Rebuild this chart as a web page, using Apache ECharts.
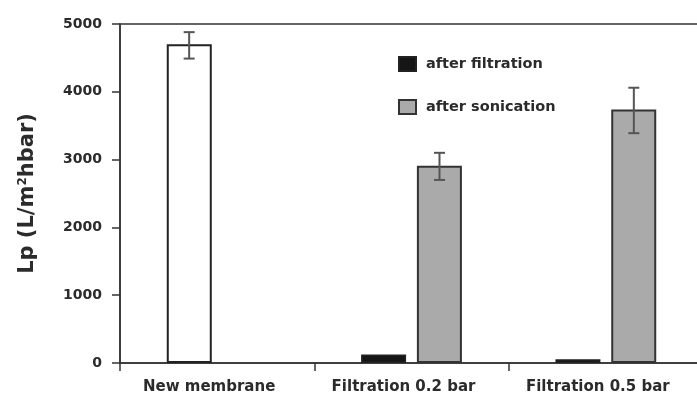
<!DOCTYPE html>
<html>
<head>
<meta charset="utf-8">
<script src="https://cdn.jsdelivr.net/npm/echarts@6/dist/echarts.min.js"></script>
<style>
  html, body { margin: 0; padding: 0; background: #fff; }
  #main { width: 697px; height: 394px; }
</style>
</head>
<body>
<div id="main"></div>
<script>
// values
var categories = ["New membrane", "Filtration 0.2 bar", "Filtration 0.5 bar"];
var afterFiltration = [4700, 127, 54];      // first bar = new membrane (white)
var afterSonication = [null, 2910, 3740];
var filtrationErr = [[4490, 4880], null, null];
var sonicationErr = [null, [2700, 3100], [3390, 4060]];
var yTicks = [0, 1000, 2000, 3000, 4000, 5000];

var FONT = "DejaVu Sans";
var INK = "#2b2b2b";
var BAR_W = 45;
var BAR_GAP = 11;

function errItems(errs, slot) {
  var out = [];
  errs.forEach(function (e, i) {
    if (e) out.push([i, e[0], e[1], slot]);
  });
  return out;
}

function renderErr(params, api) {
  var slot = api.value(3);
  var off = (slot === 0 ? -1 : 1) * (BAR_W + BAR_GAP) / 2;
  var lo = api.coord([api.value(0), api.value(1)]);
  var hi = api.coord([api.value(0), api.value(2)]);
  var x = lo[0] + off;
  var cap = 5.5;
  var style = { stroke: "#555", lineWidth: 2 };
  return {
    type: "group",
    children: [
      { type: "line", shape: { x1: x, y1: hi[1], x2: x, y2: lo[1] }, style: style },
      { type: "line", shape: { x1: x - cap, y1: hi[1], x2: x + cap, y2: hi[1] }, style: style },
      { type: "line", shape: { x1: x - cap, y1: lo[1], x2: x + cap, y2: lo[1] }, style: style }
    ]
  };
}

var chart = echarts.init(document.getElementById("main"), null, { renderer: "canvas" });

var option = {
  backgroundColor: "#fff",
  animation: false,
  grid: {
    left: 120, width: 583, top: 24, bottom: 31,
    outerBoundsMode: "none",
    show: true, borderColor: "#333", borderWidth: 1.5
  },
  legend: {
    data: ["after filtration", "after sonication"],
    orient: "vertical",
    left: 398, top: 56, padding: 0,
    icon: "rect",
    itemWidth: 17, itemHeight: 14, itemGap: 27,
    textStyle: { fontFamily: FONT, fontWeight: "bold", fontSize: 14.5, color: INK, padding: [0, 0, 0, 5] }
  },
  xAxis: {
    type: "category",
    data: categories,
    axisLine: { lineStyle: { color: "#333", width: 1.5 } },
    axisTick: { show: true, length: 8, lineStyle: { color: "#333", width: 1.5 } },
    axisLabel: {
      fontFamily: FONT, fontWeight: "bold", fontSize: 15, color: INK,
      margin: 17, padding: [0, 16, 0, 0]
    },
    splitLine: { show: false }
  },
  yAxis: {
    type: "value",
    min: yTicks[0], max: yTicks[yTicks.length - 1], interval: 1000,
    name: "Lp (L/m{sup|2}hbar)",
    nameLocation: "middle",
    nameGap: 82,
    nameTextStyle: {
      fontFamily: FONT, fontWeight: "bold", fontSize: 21, color: INK,
      rich: {
        sup: { fontFamily: FONT, fontWeight: "bold", fontSize: 12, color: INK, verticalAlign: "top", padding: [0, 0, 8, 0] }
      }
    },
    axisLine: { show: true, lineStyle: { color: "#333", width: 1.5 } },
    axisTick: { show: true, length: 8, lineStyle: { color: "#333", width: 1.5 } },
    axisLabel: {
      fontFamily: FONT, fontWeight: "bold", fontSize: 14, color: INK, margin: 18,
      formatter: function (v) { return String(v); }
    },
    splitLine: { show: false }
  },
  series: [
    {
      name: "after filtration",
      type: "bar",
      barWidth: BAR_W,
      barGap: (BAR_GAP / BAR_W * 100).toFixed(0) + "%",
      itemStyle: { color: "#151515", borderColor: "#222", borderWidth: 1.5 },
      data: afterFiltration.map(function (v, i) {
        return i === 0 ? { value: v, itemStyle: { color: "#fff", borderColor: "#222", borderWidth: 2 } } : v;
      })
    },
    {
      name: "after sonication",
      type: "bar",
      barWidth: BAR_W,
      itemStyle: { color: "#aaaaaa", borderColor: "#333", borderWidth: 2 },
      data: afterSonication
    },
    {
      type: "custom",
      renderItem: renderErr,
      z: 5,
      data: errItems(filtrationErr, 0).concat(errItems(sonicationErr, 1))
    }
  ]
};

chart.setOption(option);
</script>
</body>
</html>
